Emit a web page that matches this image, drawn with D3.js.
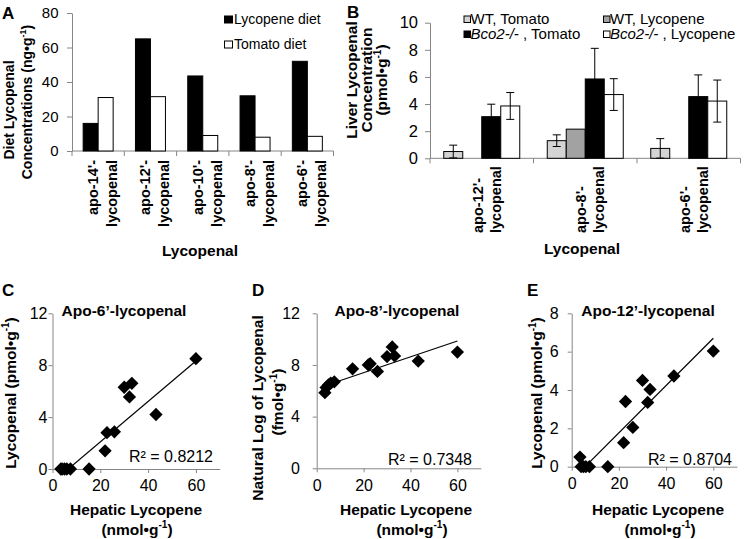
<!DOCTYPE html>
<html><head><meta charset="utf-8">
<script src="https://cdn.jsdelivr.net/npm/d3@7"></script>
<style>
body{margin:0;background:#fff}
svg{display:block;font-family:"Liberation Sans",Arial,Helvetica,sans-serif}
</style>
</head><body>
<svg id="chart" width="747" height="539"></svg>
<script>
// ---------------- DATA ----------------
// Panel A: diet lycopenal concentrations (ng/g)
const dietCategories = ["apo-14'-", "apo-12'-", "apo-10'-", "apo-8'-", "apo-6'-"];
const dietSeries = ["Lycopene diet", "Tomato diet"];
const lycopeneDiet = [16, 65, 43.5, 32, 52];
const tomatoDiet = [31, 31.5, 9, 8, 8.5];
const dietTicks = [0, 20, 40, 60, 80];

// Panel B: liver lycopenal (pmol/g), mean and error
const liverCategories = ["apo-12'-", "apo-8'-", "apo-6'-"];
const liverSeries = ["WT, Tomato", "WT, Lycopene", "Bco2-/-, Tomato", "Bco2-/-, Lycopene"];
const wtTomato = [0.5, 1.3, 0.73];
const wtTomatoErr = [0.47, 0.43, 0.72];
const wtLycopene = [0, 2.15, 0];
const wtLycopeneErr = [0, 0, 0];
const bco2Tomato = [3.07, 5.85, 4.55];
const bco2TomatoErr = [0.92, 2.26, 1.6];
const bco2Lycopene = [3.86, 4.7, 4.22];
const bco2LycopeneErr = [0.99, 1.17, 1.55];
const liverTicks = [0, 2, 4, 6, 8, 10];

// Panels C-E: hepatic lycopene (nmol/g) vs lycopenal
const hepaticLycopene = [3.5, 4.0, 5.0, 6.0, 7.5, 15.3, 22.0, 22.8, 25.9, 30.0, 32.2, 33.2, 43.3, 60.0];
const apo6Lycopenal = [0, 0, 0, 0, 0, 0, 1.4, 2.8, 2.87, 6.3, 5.55, 6.6, 4.2, 8.5];
const apo8LnLycopenal = [5.85, 6.25, 6.45, 6.6, 6.7, 7.7, 8.0, 8.1, 7.5, 8.65, 9.4, 8.7, 8.3, 9.0];
const apo12Lycopenal = [0.5, 0, 0, 0, 0, 0, 1.25, 3.4, 2.05, 4.5, 3.35, 4.03, 4.73, 6.03];
const scatterTitles = ["Apo-6\u2019-lycopenal", "Apo-8\u2019-lycopenal", "Apo-12\u2019-lycopenal"];
const trendSlope = [0.156, 0.0613, 0.1233];
const trendIntercept = [-1.03, 6.18, -0.697];
const r2Labels = ["R\u00b2 = 0.8212", "R\u00b2 = 0.7348", "R\u00b2 = 0.8704"];
const hepaticTicks = [0, 20, 40, 60];
const ticksC = [0, 4, 8, 12];
const ticksD = [0, 4, 8, 12];
const ticksE = [0, 2, 4, 6, 8];

// ---------------- HELPERS ----------------
const svg = d3.select("#chart");
const AXIS = "#868686";

function styleAxis(g, size) {
  g.select(".domain").attr("stroke", AXIS).attr("stroke-width", 1);
  g.selectAll(".tick line").attr("stroke", AXIS);
  g.selectAll(".tick text").attr("fill", "#000").attr("font-size", size)
    .attr("font-family", '"Liberation Sans",Arial,sans-serif');
}
function addSup(t, before, sup, after, size) {
  t.append("tspan").text(before);
  t.append("tspan").attr("font-size", size * 0.65).attr("dy", -size * 0.42).text(sup);
  t.append("tspan").attr("dy", size * 0.42).text(after);
}
function rotText(x, y, anchor, size, weight) {
  return svg.append("text").attr("transform", `translate(${x},${y}) rotate(-90)`)
    .attr("text-anchor", anchor).attr("font-size", size).attr("font-weight", weight);
}
function hText(x, y, anchor, size, weight) {
  return svg.append("text").attr("x", x).attr("y", y)
    .attr("text-anchor", anchor).attr("font-size", size).attr("font-weight", weight);
}
function panelLabel(t, x, y) { hText(x, y, "start", 17, "bold").text(t); }

// ---------------- PANEL A ----------------
(function () {
  const x = d3.scaleBand().domain(dietCategories).range([72, 333.5]);
  const y = d3.scaleLinear().domain([0, 80]).range([151, 13]);
  const barW = 15;
  const gy = svg.append("g").attr("transform", "translate(72,0)")
    .call(d3.axisLeft(y).tickValues(dietTicks).tickSize(5).tickSizeOuter(0).tickPadding(8.5));
  styleAxis(gy, 15);
  svg.append("line").attr("x1", x.range()[0]).attr("x2", x.range()[1]).attr("y1", y(0)).attr("y2", y(0)).attr("stroke", AXIS);
  const bounds = dietCategories.map(c => x(c)).concat([x.range()[1]]);
  svg.selectAll(".atick").data(bounds).enter().append("line")
    .attr("x1", d => d).attr("x2", d => d).attr("y1", y(0)).attr("y2", y(0) + 5).attr("stroke", AXIS);
  const series = [lycopeneDiet, tomatoDiet];
  const fills = ["#000", "#fff"];
  series.forEach((vals, si) => {
    svg.selectAll(".abar" + si).data(vals).enter().append("rect")
      .attr("x", (d, i) => x(dietCategories[i]) + x.bandwidth() / 2 - barW + si * barW)
      .attr("y", d => y(d)).attr("width", barW).attr("height", d => y(0) - y(d))
      .attr("fill", fills[si]).attr("stroke", "#000").attr("stroke-width", 1);
  });
  dietCategories.forEach(c => {
    const cx = x(c) + x.bandwidth() / 2;
    rotText(cx + 0, 160, "end", 14.5, "bold").text(c);
    rotText(cx + 19, 160, "end", 14.5, "bold").text("lycopenal");
  });
  dietSeries.forEach((s, i) => {
    const ly = 16 + i * 25;
    svg.append("rect").attr("x", 224.5).attr("y", ly).attr("width", 8).attr("height", 7)
      .attr("fill", fills[i]).attr("stroke", "#000");
    hText(234, ly + 7.5, "start", 14, "normal").text(s);
  });
  rotText(14, 110, "middle", 14, "bold").text("Diet Lycopenal");
  addSup(rotText(32, 102, "middle", 14, "bold"), "Concentrations (ng\u2022g", "-1", ")", 14);
  hText(200, 256, "middle", 15.5, "bold").text("Lycopenal");
  panelLabel("A", 2, 18.5);
})();

// ---------------- PANEL B ----------------
(function () {
  const x = d3.scaleBand().domain(liverCategories).range([430, 740.5]);
  const y = d3.scaleLinear().domain([0, 10]).range([158.3, 22.7]);
  const barW = 19;
  const gy = svg.append("g").attr("transform", "translate(430,0)")
    .call(d3.axisLeft(y).tickValues(liverTicks).tickSize(5).tickSizeOuter(0).tickPadding(7));
  styleAxis(gy, 16.5);
  svg.append("line").attr("x1", x.range()[0]).attr("x2", x.range()[1]).attr("y1", y(0)).attr("y2", y(0)).attr("stroke", AXIS);
  const bounds = liverCategories.map(c => x(c)).concat([x.range()[1]]);
  svg.selectAll(".btick").data(bounds).enter().append("line")
    .attr("x1", d => d).attr("x2", d => d).attr("y1", y(0)).attr("y2", y(0) + 5).attr("stroke", AXIS);
  const series = [wtTomato, wtLycopene, bco2Tomato, bco2Lycopene];
  const errs = [wtTomatoErr, wtLycopeneErr, bco2TomatoErr, bco2LycopeneErr];
  const fills = ["#d4d4d4", "#a2a2a2", "#000", "#fff"];
  series.forEach((vals, si) => {
    vals.forEach((v, i) => {
      if (v <= 0) return;
      const bx = x(liverCategories[i]) + x.bandwidth() / 2 - 2 * barW + si * barW;
      svg.append("rect").attr("x", bx).attr("y", y(v)).attr("width", barW).attr("height", y(0) - y(v))
        .attr("fill", fills[si]).attr("stroke", "#000").attr("stroke-width", 1);
      const e = errs[si][i];
      if (e > 0) {
        const cx = bx + barW / 2;
        svg.append("line").attr("x1", cx).attr("x2", cx).attr("y1", y(v + e)).attr("y2", y(Math.max(0, v - e))).attr("stroke", "#000");
        [v + e, Math.max(0, v - e)].forEach(ev => {
          svg.append("line").attr("x1", cx - 4).attr("x2", cx + 4).attr("y1", y(ev)).attr("y2", y(ev)).attr("stroke", "#000");
        });
      }
    });
  });
  liverCategories.forEach(c => {
    const cx = x(c) + x.bandwidth() / 2;
    rotText(cx + 1, 233, "start", 14.5, "bold").text(c);
    rotText(cx + 19, 233, "start", 14.5, "bold").text("lycopenal");
  });
  liverSeries.forEach((s, i) => {
    const col = i % 2, row = Math.floor(i / 2);
    const lx = col === 0 ? 464 : 603.5, ly = 16 + row * 15;
    svg.append("rect").attr("x", lx).attr("y", ly).attr("width", 6.5).attr("height", 6.5)
      .attr("fill", fills[i]).attr("stroke", "#000");
    const t = hText(lx + 6.5, ly + 7.5, "start", 15, "normal");
    if (s.startsWith("Bco2")) {
      const parts = s.split(",");
      t.append("tspan").attr("font-style", "italic").text(parts[0]);
      t.append("tspan").text(" ," + parts[1]);
    } else t.text(s);
  });
  rotText(357, 80, "middle", 15.5, "bold").text("Liver Lycopenal");
  rotText(372, 80, "middle", 15.5, "bold").text("Concentration");
  addSup(rotText(387, 80, "middle", 15.5, "bold"), "(pmol\u2022g", "-1", ")", 15.5);
  hText(582, 254, "middle", 15.5, "bold").text("Lycopenal");
  panelLabel("B", 347, 17.5);
})();

// ---------------- SCATTER PANELS ----------------
function scatter(cfg) {
  const x = d3.scaleLinear().domain([0, 70]).range([cfg.x0, cfg.x1]);
  const y = d3.scaleLinear().domain([0, cfg.yMax]).range([cfg.y0, cfg.y1]);
  const gy = svg.append("g").attr("transform", `translate(${cfg.x0},0)`)
    .call(d3.axisLeft(y).tickValues(cfg.yTicks).tickSize(4).tickSizeOuter(0).tickPadding(cfg.yPad));
  styleAxis(gy, 16);
  const gx = svg.append("g").attr("transform", `translate(0,${cfg.y0})`)
    .call(d3.axisBottom(x).tickValues(hepaticTicks).tickSize(4).tickSizeOuter(0).tickPadding(7));
  styleAxis(gx, 16);
  const id = "clip" + cfg.key;
  svg.append("clipPath").attr("id", id).append("rect")
    .attr("x", cfg.x0).attr("y", cfg.y1).attr("width", cfg.x1 - cfg.x0).attr("height", cfg.y0 - cfg.y1);
  const xr = d3.extent(hepaticLycopene);
  const tl = xr.map(v => [v, cfg.slope * v + cfg.intercept]);
  svg.append("path").attr("clip-path", `url(#${id})`)
    .attr("d", d3.line().x(d => x(d[0])).y(d => y(d[1]))(tl))
    .attr("stroke", "#000").attr("stroke-width", 1.2).attr("fill", "none");
  const sym = d3.symbol().type(d3.symbolSquare).size(88);
  svg.selectAll(".pt" + cfg.key).data(hepaticLycopene).enter().append("path")
    .attr("d", sym)
    .attr("transform", (d, i) => `translate(${x(d)},${y(cfg.values[i])}) rotate(45)`)
    .attr("fill", "#000");
  hText(cfg.titleX, 316, "middle", 15.5, "bold").text(cfg.title);
  hText(cfg.r2X, cfg.r2Y, "end", 16, "normal").text(cfg.r2);
  hText(cfg.xtX, 515, "middle", 15.5, "bold").text("Hepatic Lycopene");
  addSup(hText(cfg.xtX2, 534.5, "middle", 15.5, "bold"), "(nmol\u2022g", "-1", ")", 15.5);
  panelLabel(cfg.key, cfg.labelX, 295.5);
}

scatter({ key: "C", x0: 52.5, x1: 219.8, y0: 469, y1: 313.3, yMax: 12, yTicks: ticksC, yPad: 1,
  values: apo6Lycopenal, slope: trendSlope[0], intercept: trendIntercept[0], title: scatterTitles[0],
  r2: r2Labels[0], titleX: 124, r2X: 213, r2Y: 462, xtX: 136, xtX2: 137, labelX: 2 });
addSup(rotText(15.5, 393, "middle", 15.5, "bold"), "Lycopenal (pmol\u2022g", "-1", ")", 15.5);

scatter({ key: "D", x0: 316.7, x1: 480.85, y0: 468.3, y1: 313.3, yMax: 12, yTicks: ticksD, yPad: 12.7,
  values: apo8LnLycopenal, slope: trendSlope[1], intercept: trendIntercept[1], title: scatterTitles[1],
  r2: r2Labels[1], titleX: 397, r2X: 472, r2Y: 465, xtX: 406, xtX2: 412, labelX: 252 });
rotText(263, 408, "middle", 15.5, "bold").text("Natural Log of Lycopenal");
addSup(rotText(283, 402, "middle", 15.5, "bold"), "(fmol\u2022g", "-1", ")", 15.5);

scatter({ key: "E", x0: 571.7, x1: 736.9, y0: 466.7, y1: 313.3, yMax: 8, yTicks: ticksE, yPad: 9,
  values: apo12Lycopenal, slope: trendSlope[2], intercept: trendIntercept[2], title: scatterTitles[2],
  r2: r2Labels[2], titleX: 648, r2X: 732, r2Y: 465, xtX: 658, xtX2: 660, labelX: 527 });
addSup(rotText(542, 393, "middle", 15.5, "bold"), "Lycopenal (pmol\u2022g", "-1", ")", 15.5);
</script>
</body></html>
